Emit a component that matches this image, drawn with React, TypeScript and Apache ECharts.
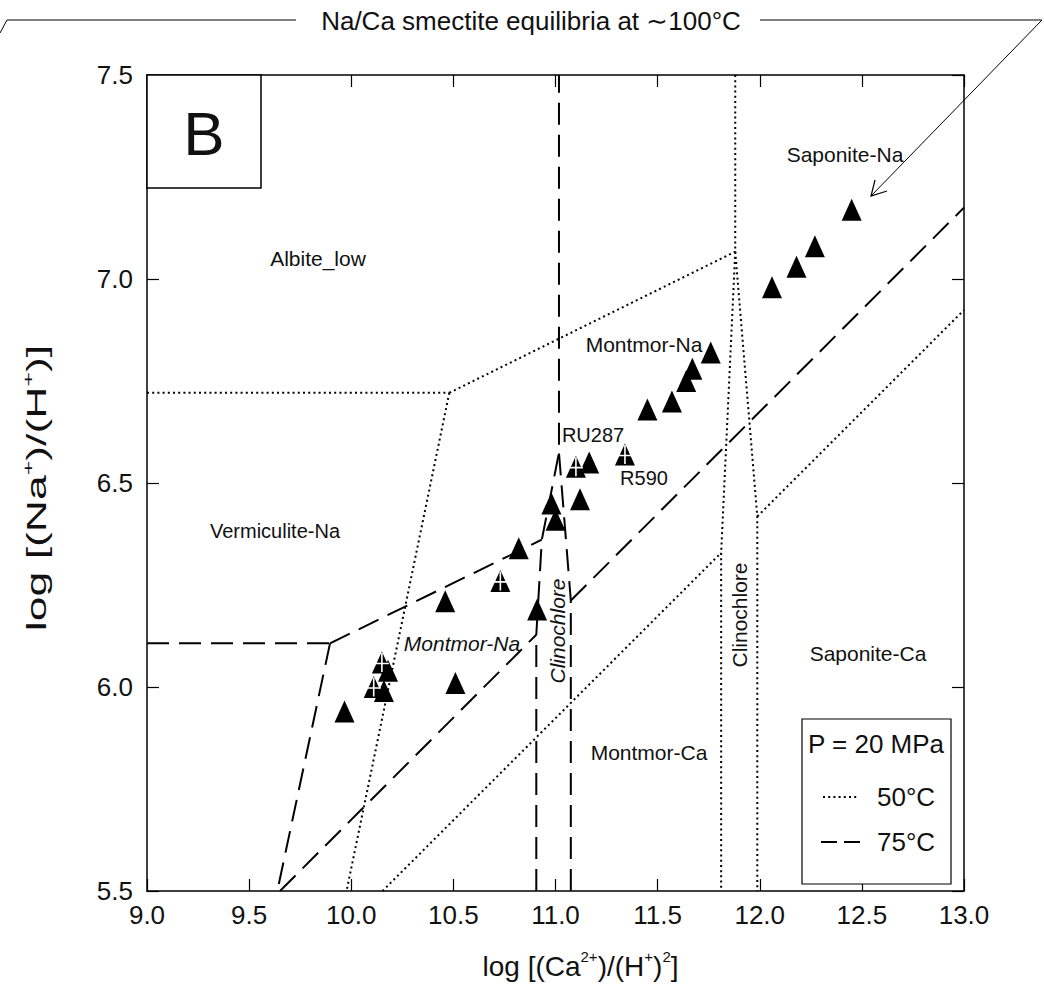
import React, { useEffect, useRef } from "react";
import * as echarts from "echarts";

// ---- Data ----
const xTickMin = 9.0;
const xTickMax = 13.0;
const yTickMin = 5.5;
const yTickMax = 7.5;
const tickStep = 0.5;

// Filled triangles (sample points)
const filledX = [9.967, 10.18, 10.16, 10.51, 10.46, 10.82, 10.91, 10.98, 11.0, 11.12, 11.165, 11.45, 11.57, 11.64, 11.67, 11.76, 12.06, 12.18, 12.27, 12.45];
const filledY = [5.94, 6.04, 5.99, 6.01, 6.21, 6.34, 6.19, 6.45, 6.41, 6.46, 6.55, 6.68, 6.7, 6.75, 6.78, 6.82, 6.98, 7.03, 7.08, 7.17];

// Triangles with white cross
const crossedX = [10.15, 10.11, 10.73, 11.1, 11.34];
const crossedY = [6.06, 6.0, 6.26, 6.54, 6.57];

// 50 °C boundaries (dotted)
const dot50Horizontal = [[9.0, 6.721], [10.48, 6.721]];
const dot50AlbiteMontmor = [[10.48, 6.721], [11.88, 7.067]];
const dot50VermMontmor = [[10.48, 6.721], [9.977, 5.5]];
const dot50ClinoTop = [[11.88, 7.5], [11.88, 7.067]];
const dot50ClinoLeft = [[11.88, 7.067], [11.811, 6.329], [11.811, 5.5]];
const dot50ClinoRight = [[11.88, 7.067], [11.988, 6.418], [11.988, 5.5]];
const dot50DiagA = [[10.153, 5.5], [11.811, 6.329]];
const dot50DiagB = [[11.988, 6.418], [13.0, 6.924]];

// 75 °C boundaries (dashed)
const dash75Horizontal = [[9.0, 6.107], [9.896, 6.107]];
const dash75Left = [[9.896, 6.107], [9.638, 5.5]];
const dash75Upper = [[9.896, 6.107], [10.933, 6.361]];
const dash75ClinoLeft = [[10.906, 5.5], [10.906, 6.128], [10.933, 6.361], [11.017, 6.574], [11.017, 7.5]];
const dash75ClinoRight = [[11.075, 5.5], [11.075, 6.212], [11.017, 6.574]];
const dash75DiagA = [[9.651, 5.5], [10.906, 6.128]];
const dash75DiagB = [[11.075, 6.212], [13.0, 7.175]];

const FONT = "'Liberation Sans', Arial, Helvetica, sans-serif";
const INK = "#111";

export default function App() {
  const ref = useRef<HTMLDivElement>(null);

  useEffect(() => {
    document.body.style.margin = "0";
    if (!ref.current) return;
    const chart = echarts.init(ref.current, undefined, { renderer: "svg" });

    const dotted = (data: number[][]) => ({
      type: "line",
      data,
      symbol: "none",
      silent: true,
      z: 3,
      lineStyle: { color: "#000", width: 2, type: [2, 3.2] },
    });
    const dashed = (data: number[][]) => ({
      type: "line",
      data,
      symbol: "none",
      silent: true,
      z: 3,
      lineStyle: { color: "#000", width: 2, type: [22, 10] },
    });

    const filled = filledX.map((x, i) => [x, filledY[i]]);
    const crossed = crossedX.map((x, i) => [x, crossedY[i]]);

    const crossPath = "path://M6.2,0 H7.8 V20 H6.2 Z M0,10.2 H14 V11.8 H0 Z";

    const axisCommon = {
      type: "value",
      interval: tickStep,
      splitLine: { show: false },
      axisLine: { show: true, onZero: false, lineStyle: { color: "#000", width: 1.5 } },
      axisTick: { show: true, inside: true, length: 12, lineStyle: { color: "#000", width: 1.2 } },
    };

    const textEl = (text: string, x: number, y: number, size: number, extra: any = {}) => ({
      type: "text",
      x,
      y,
      z: 20,
      rotation: extra.rotation || 0,
      style: {
        text,
        fontSize: size,
        fontFamily: FONT,
        fontStyle: extra.italic ? "italic" : "normal",
        fill: INK,
        align: extra.align || "center",
        verticalAlign: "middle",
      },
    });

    const titleRich = {
      t: { fontSize: 28, fontFamily: FONT, color: INK, lineHeight: 34 },
      s: { fontSize: 15, fontFamily: FONT, color: INK, verticalAlign: "top", lineHeight: 12 },
    };

    const option: any = {
      animation: false,
      grid: { left: 147, right: 80, top: 75, bottom: 94 },
      xAxis: [
        {
          ...axisCommon,
          min: xTickMin,
          max: xTickMax,
          position: "bottom",
          axisLabel: {
            fontSize: 26,
            fontFamily: FONT,
            color: INK,
            margin: 11,
            formatter: (v: number) => v.toFixed(1),
          },
          name: "{t|log [(Ca}{s|2+}{t|)/(H}{s|+}{t|)}{s|2}{t|]}",
          nameLocation: "middle",
          nameGap: 58,
          nameTextStyle: {
            padding: [0, 0, 0, 50],
            rich: titleRich,
          },
        },
        {
          ...axisCommon,
          min: xTickMin,
          max: xTickMax,
          position: "top",
          axisLabel: { show: false },
        },
      ],
      yAxis: [
        {
          ...axisCommon,
          min: yTickMin,
          max: yTickMax,
          position: "left",
          axisLabel: {
            fontSize: 26,
            fontFamily: FONT,
            color: INK,
            margin: 14,
            formatter: (v: number) => v.toFixed(1),
          },
        },
        {
          ...axisCommon,
          min: yTickMin,
          max: yTickMax,
          position: "right",
          axisLabel: { show: false },
        },
      ],
      series: [
        dotted(dot50Horizontal),
        dotted(dot50AlbiteMontmor),
        dotted(dot50VermMontmor),
        dotted(dot50ClinoTop),
        dotted(dot50ClinoLeft),
        dotted(dot50ClinoRight),
        dotted(dot50DiagA),
        dotted(dot50DiagB),
        dashed(dash75Horizontal),
        dashed(dash75Left),
        dashed(dash75Upper),
        dashed(dash75ClinoLeft),
        dashed(dash75ClinoRight),
        dashed(dash75DiagA),
        dashed(dash75DiagB),
        {
          type: "scatter",
          data: filled,
          symbol: "triangle",
          symbolSize: [20, 22],
          itemStyle: { color: "#000", opacity: 1 },
          z: 5,
        },
        {
          type: "scatter",
          data: crossed,
          symbol: "triangle",
          symbolSize: [20, 22],
          itemStyle: { color: "#000", opacity: 1 },
          z: 6,
        },
        {
          type: "scatter",
          data: crossed,
          symbol: crossPath,
          symbolSize: [14, 19],
          itemStyle: { color: "#fff", opacity: 1 },
          z: 7,
        },
      ],
      graphic: [
        // y-axis title (stretched along its length as in the reference)
        {
          type: "text",
          x: 37,
          y: 488,
          rotation: Math.PI / 2,
          scaleX: 1.65,
          z: 20,
          style: {
            text: "{t|log [(Na}{s|+}{t|)/(H}{s|+}{t|)]}",
            rich: {
              t: { fontSize: 27, fontFamily: FONT, fill: INK, lineHeight: 34 },
              s: { fontSize: 15, fontFamily: FONT, fill: INK, verticalAlign: "top", lineHeight: 12 },
            },
            align: "center",
            verticalAlign: "middle",
          },
        },
        // panel letter box
        {
          type: "rect",
          z: 10,
          shape: { x: 147, y: 75, width: 114, height: 113 },
          style: { fill: "#fff", stroke: "#000", lineWidth: 1.5 },
        },
        textEl("B", 204, 133, 62),
        // title with leader lines
        textEl("Na/Ca smectite equilibria at \u223C100°C", 531, 21, 26),
        {
          type: "polyline",
          z: 10,
          shape: { points: [[0, 33], [7, 20], [296, 20]] },
          style: { stroke: "#000", lineWidth: 1, fill: "none" },
        },
        {
          type: "polyline",
          z: 10,
          shape: { points: [[760, 20], [1042, 20], [871, 196]] },
          style: { stroke: "#000", lineWidth: 1, fill: "none" },
        },
        {
          type: "polyline",
          z: 10,
          shape: { points: [[875, 180], [871, 196], [887, 191]] },
          style: { stroke: "#000", lineWidth: 1.2, fill: "none" },
        },
        // field labels
        textEl("Albite_low", 318, 258, 21),
        textEl("Saponite-Na", 845, 154, 21),
        textEl("Montmor-Na", 644, 344, 21),
        textEl("RU287", 593, 435, 20),
        textEl("R590", 644, 478, 20),
        textEl("Vermiculite-Na", 275, 531, 20),
        textEl("Montmor-Na", 462, 643, 21, { italic: true }),
        textEl("Clinochlore", 557, 631, 21, { italic: true, rotation: Math.PI / 2 }),
        textEl("Clinochlore", 739, 615, 21, { rotation: Math.PI / 2 }),
        textEl("Saponite-Ca", 868, 653, 21),
        textEl("Montmor-Ca", 649, 752, 21),
        // legend box
        {
          type: "rect",
          z: 10,
          shape: { x: 802, y: 719, width: 149, height: 165 },
          style: { fill: "#fff", stroke: "#000", lineWidth: 1.2 },
        },
        textEl("P = 20 MPa", 876, 744, 26),
        {
          type: "line",
          z: 20,
          shape: { x1: 823, y1: 797, x2: 858, y2: 797 },
          style: { stroke: "#000", lineWidth: 2, lineDash: [2, 3.2] },
        },
        textEl("50°C", 877, 797, 26, { align: "left" }),
        {
          type: "line",
          z: 20,
          shape: { x1: 821, y1: 842, x2: 860, y2: 842 },
          style: { stroke: "#000", lineWidth: 2, lineDash: [16, 7] },
        },
        textEl("75°C", 877, 842, 26, { align: "left" }),
      ],
    };

    chart.setOption(option);
    return () => chart.dispose();
  }, []);

  return <div ref={ref} style={{ width: 1044, height: 985 }} />;
}
